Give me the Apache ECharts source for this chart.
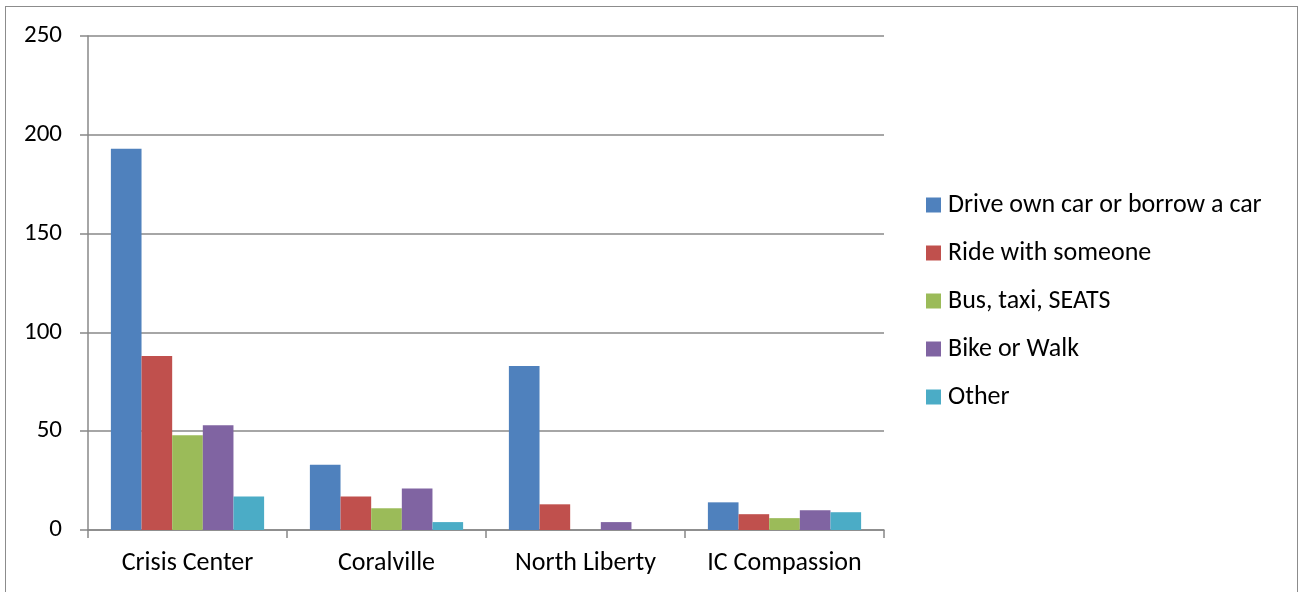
<!DOCTYPE html>
<html>
<head>
<meta charset="utf-8">
<script src="https://cdn.jsdelivr.net/npm/echarts@6/dist/echarts.min.js"></script>
<style>
  html, body { margin: 0; padding: 0; background: #fff; }
  #frame { position: absolute; left: 5px; top: 6px; width: 1293px; height: 600px; border: 1px solid #8c8c8c; box-sizing: border-box; }
  #chart { width: 1304px; height: 592px; }
</style>
</head>
<body>
<div id="frame"></div>
<div id="chart"></div>
<script>
// locations on the x axis
const locations = ['Crisis Center', 'Coralville', 'North Liberty', 'IC Compassion'];

// one array per transport mode, values per location
const driveOwn = [193, 33, 83, 14];
const rideWith = [88, 17, 13, 8];
const busTaxi = [48, 11, 0, 6];
const bikeWalk = [53, 21, 4, 10];
const other = [17, 4, 0, 9];

const seriesNames = ['Drive own car or borrow a car', 'Ride with someone', 'Bus, taxi, SEATS', 'Bike or Walk', 'Other'];
const seriesColors = ['#4f81bd', '#c0504d', '#9bbb59', '#8064a2', '#4bacc6'];
const seriesValues = [driveOwn, rideWith, busTaxi, bikeWalk, other];

const chart = echarts.init(document.getElementById('chart'));

const fontFamily = 'Carlito, "Open Sans", "Noto Sans", sans-serif';

chart.setOption({
  animation: false,
  grid: { left: 88, right: 420, top: 36, bottom: 62 },
  legend: {
    orient: 'vertical',
    left: 926,
    top: 192,
    padding: 0,
    itemWidth: 15,
    itemHeight: 15,
    itemGap: 22,
    icon: 'rect',
    textStyle: { fontFamily, fontSize: 26, lineHeight: 26, color: '#000', padding: [0, 0, 0, 2] },
    data: seriesNames
  },
  xAxis: {
    type: 'category',
    data: locations,
    axisLine: { lineStyle: { color: '#888', width: 1.5 } },
    axisTick: { show: true, interval: 0, length: 8, lineStyle: { color: '#888', width: 1.5 } },
    axisLabel: { interval: 0, hideOverlap: false, fontFamily, fontSize: 26, color: '#000', margin: 20 }
  },
  yAxis: {
    type: 'value',
    min: 0,
    max: 250,
    interval: 50,
    axisLine: { show: true, lineStyle: { color: '#888', width: 1.5 } },
    axisTick: { show: true, length: 8, lineStyle: { color: '#888', width: 1.5 } },
    splitLine: { lineStyle: { color: '#888', width: 1.5 } },
    axisLabel: { fontFamily, fontSize: 25, color: '#000', margin: 26 }
  },
  series: seriesNames.map((name, i) => ({
    name,
    type: 'bar',
    data: seriesValues[i],
    barGap: '0%',
    barCategoryGap: '23%',
    itemStyle: { color: seriesColors[i] }
  }))
});
</script>
</body>
</html>
